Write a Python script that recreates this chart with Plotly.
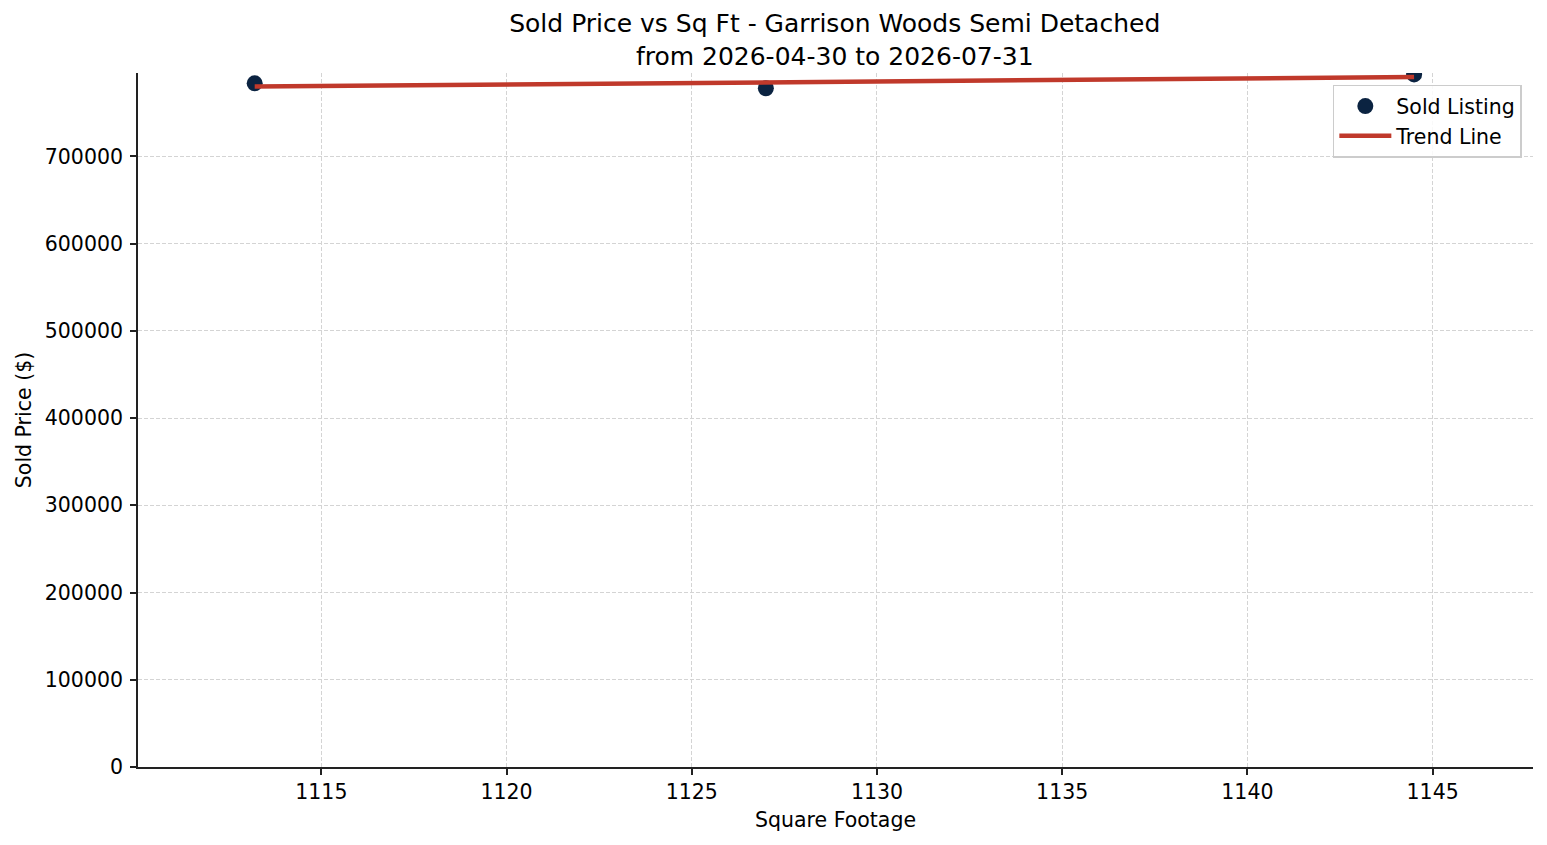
import numpy as np
import plotly.graph_objects as go

sqft = [1113.2, 1127.0, 1144.5]
price = [783800, 778100, 794000]
x_ticks = [1115, 1120, 1125, 1130, 1135, 1140, 1145]
y_ticks = [0, 100000, 200000, 300000, 400000, 500000, 600000, 700000]

slope, intercept = np.polyfit(sqft, price, 1)
trend_x = [min(sqft), max(sqft)]
trend_y = [slope * v + intercept for v in trend_x]

FONT = "DejaVu Sans"
fig = go.Figure()
fig.add_trace(go.Scatter(x=sqft, y=price, mode="markers", name="Sold Listing",
                         marker=dict(color="#0b2341", size=16)))
fig.add_trace(go.Scatter(x=trend_x, y=trend_y, mode="lines", name="Trend Line",
                         line=dict(color="#c0392b", width=4.5)))

fig.update_layout(
    width=1531, height=829,
    margin=dict(l=130, r=6, t=65, b=70),
    paper_bgcolor="white", plot_bgcolor="white",
    font=dict(family=FONT, size=20.5, color="black"),
    title=dict(text="Sold Price vs Sq Ft - Garrison Woods Semi Detached<br>from 2026-04-30 to 2026-07-31",
               x=0.540, xanchor="center", y=0.971, yanchor="top",
               font=dict(family=FONT, size=25, color="black")),
    legend=dict(x=0.992, xanchor="right", y=0.983, yanchor="top",
                bgcolor="rgba(255,255,255,0.85)", bordercolor="#cccccc", borderwidth=1.5,
                font=dict(family=FONT, size=20.5, color="black"), itemwidth=52,
                tracegroupgap=0),
    showlegend=True,
)
fig.update_xaxes(range=[1110.05, 1147.71], tickvals=x_ticks, ticktext=[str(v) for v in x_ticks],
                 showline=True, linecolor="#222222", linewidth=1.7, mirror=False,
                 ticks="outside", ticklen=6, tickwidth=1.7, tickcolor="#222222",
                 showgrid=True, gridcolor="#d4d4d4", gridwidth=0.8, griddash="4px,2px",
                 zeroline=False,
                 title=dict(text="Square Footage", standoff=9, font=dict(family=FONT, size=20.5)))
fig.update_yaxes(range=[0, 795600], tickvals=y_ticks, ticktext=[str(v) for v in y_ticks],
                 showline=True, linecolor="#222222", linewidth=1.7, mirror=False,
                 ticks="outside", ticklen=6, tickwidth=1.7, tickcolor="#222222",
                 ticklabelstandoff=3,
                 showgrid=True, gridcolor="#d4d4d4", gridwidth=0.8, griddash="4px,2px",
                 zeroline=False,
                 title=dict(text="Sold Price ($)", standoff=8, font=dict(family=FONT, size=20.5)))

fig.write_html("out.html")
